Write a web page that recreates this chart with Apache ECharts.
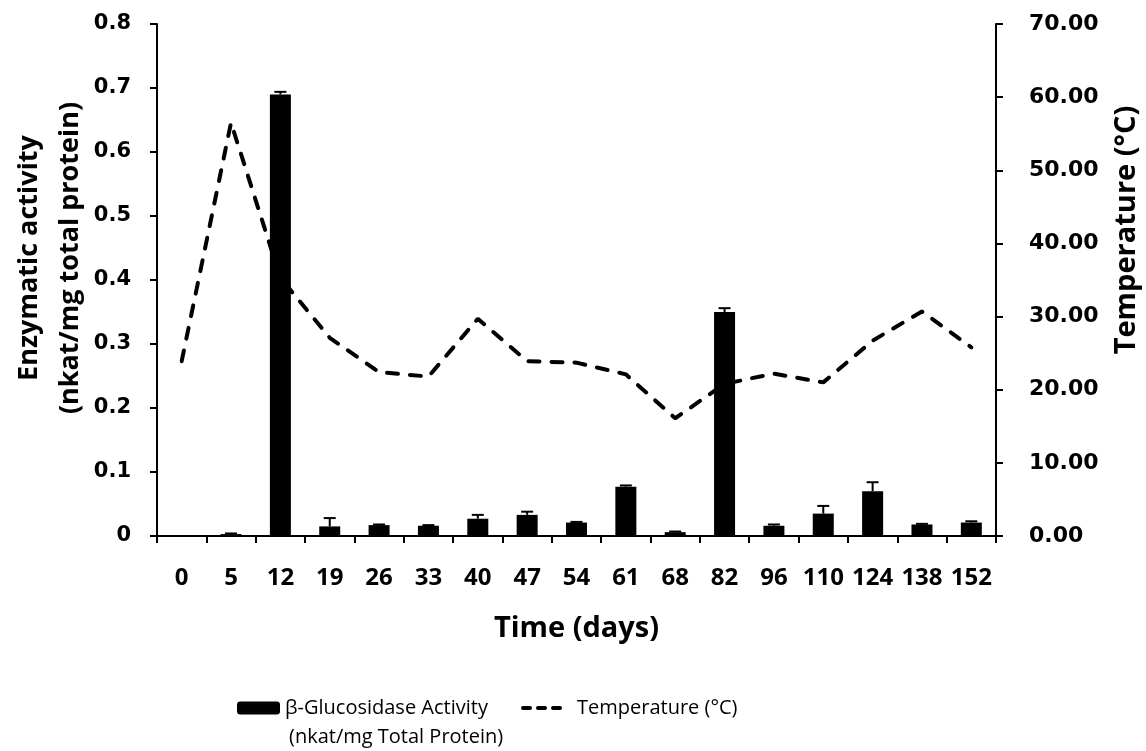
<!DOCTYPE html>
<html>
<head>
<meta charset="utf-8">
<script src="https://cdn.jsdelivr.net/npm/echarts@6/dist/echarts.min.js"></script>
<style>
html,body{margin:0;padding:0;background:#fff;}
#chart{width:1146px;height:751px;}
</style>
</head>
<body>
<div id="chart"></div>
<script>
const days = ['0','5','12','19','26','33','40','47','54','61','68','82','96','110','124','138','152'];
const activity = [0, 0.003, 0.69, 0.015, 0.017, 0.016, 0.027, 0.033, 0.021, 0.077, 0.006, 0.35, 0.016, 0.035, 0.070, 0.018, 0.021];
const activityErr = [0, 0.001, 0.004, 0.013, 0.001, 0.001, 0.006, 0.005, 0.001, 0.002, 0.001, 0.006, 0.002, 0.012, 0.014, 0.001, 0.002];
const temperature = [23.9, 56.5, 35.3, 27.1, 22.4, 21.8, 29.7, 23.9, 23.7, 22.1, 16.1, 20.8, 22.2, 21.0, 26.7, 30.7, 25.8];

const barName = 'β-Glucosidase Activity';
const lineName = 'Temperature (°C)';

const chart = echarts.init(document.getElementById('chart'), null, {renderer: 'canvas'});
const errData = activity.map((v, i) => [i, v, v + activityErr[i]]);

const option = {
  animation: false,
  backgroundColor: '#fff',
  grid: {left: 157, right: 150, top: 24, bottom: 215, containLabel: false},
  legend: [
    {data: [barName], left: 232, top: 693, itemWidth: 43, itemHeight: 13, itemGap: 8,
     textStyle: {fontFamily: 'Open Sans', fontSize: 20, color: '#000'}},
    {data: [{name: lineName}], left: 516, top: 693, itemWidth: 37, itemHeight: 13, itemGap: 8,
     itemStyle: {opacity: 0},
     lineStyle: {color: '#000', width: 4, type: [7, 8], cap: 'round'},
     textStyle: {fontFamily: 'Open Sans', fontSize: 20, color: '#000', padding: [0, 0, 0, 12]}}
  ],
  graphic: [
    {type: 'text', left: 289, top: 727, style: {text: '(nkat/mg Total Protein)', font: '20px "Open Sans"', fill: '#000'}},
    {type: 'text', x: 50, y: 258, rotation: Math.PI / 2,
     style: {text: 'Enzymatic activity\n(nkat/mg total protein)', font: 'bold 27px "Open Sans"', fill: '#000',
             align: 'center', verticalAlign: 'middle', lineHeight: 41}},
    {type: 'text', x: 1127, y: 230, rotation: Math.PI / 2,
     style: {text: 'Temperature (°C)', font: 'bold 29px "Open Sans"', fill: '#000',
             align: 'center', verticalAlign: 'middle'}}
  ],
  xAxis: {
    type: 'category', data: days, boundaryGap: true,
    name: 'Time (days)', nameLocation: 'middle', nameGap: 78,
    nameTextStyle: {fontFamily: 'Open Sans', fontWeight: 'bold', fontSize: 29, color: '#000'},
    axisLine: {lineStyle: {color: '#000', width: 2}},
    axisTick: {show: true, interval: 0, alignWithLabel: false, length: 7, lineStyle: {color: '#000', width: 2}},
    axisLabel: {interval: 0, margin: 30, fontFamily: 'Open Sans', fontWeight: 'bold', fontSize: 24, color: '#000'},
    splitLine: {show: false}
  },
  yAxis: [
    {type: 'value', min: 0, max: 0.8, interval: 0.1, position: 'left',
     axisLine: {show: true, lineStyle: {color: '#000', width: 2}},
     axisTick: {show: true, length: 7, lineStyle: {color: '#000', width: 2}},
     axisLabel: {margin: 26, fontFamily: 'DejaVu Sans', fontWeight: 'bold', fontSize: 21, color: '#000',
                 formatter: v => v === 0 ? '0' : v.toFixed(1)},
     splitLine: {show: false}},
    {type: 'value', min: 0, max: 70, interval: 10, position: 'right',
     axisLine: {show: true, lineStyle: {color: '#000', width: 2}},
     axisTick: {show: true, length: 7, lineStyle: {color: '#000', width: 2}},
     axisLabel: {margin: 33, fontFamily: 'DejaVu Sans', fontWeight: 'bold', fontSize: 22, color: '#000',
                 formatter: v => v.toFixed(2)},
     splitLine: {show: false}}
  ],
  series: [
    {name: barName, type: 'bar', yAxisIndex: 0, data: activity, barWidth: 21,
     itemStyle: {color: '#000'}, z: 2},
    {name: 'err', type: 'custom', yAxisIndex: 0, data: errData, z: 3,
     renderItem: function (params, api) {
       const x = api.value(0);
       const top = api.coord([x, api.value(2)]);
       const base = api.coord([x, api.value(1)]);
       const hw = 6;
       return {type: 'group', children: [
         {type: 'line', shape: {x1: base[0], y1: base[1], x2: top[0], y2: top[1]}, style: {stroke: '#000', lineWidth: 2}},
         {type: 'line', shape: {x1: top[0] - hw, y1: top[1], x2: top[0] + hw, y2: top[1]}, style: {stroke: '#000', lineWidth: 2}}
       ]};
     }},
    {name: lineName, type: 'line', yAxisIndex: 1, data: temperature, showSymbol: false, symbol: 'none',
     lineStyle: {color: '#000', width: 4, type: [11, 12], cap: 'round'}, itemStyle: {color: '#000'}, z: 4}
  ]
};
chart.setOption(option);
</script>
</body>
</html>
